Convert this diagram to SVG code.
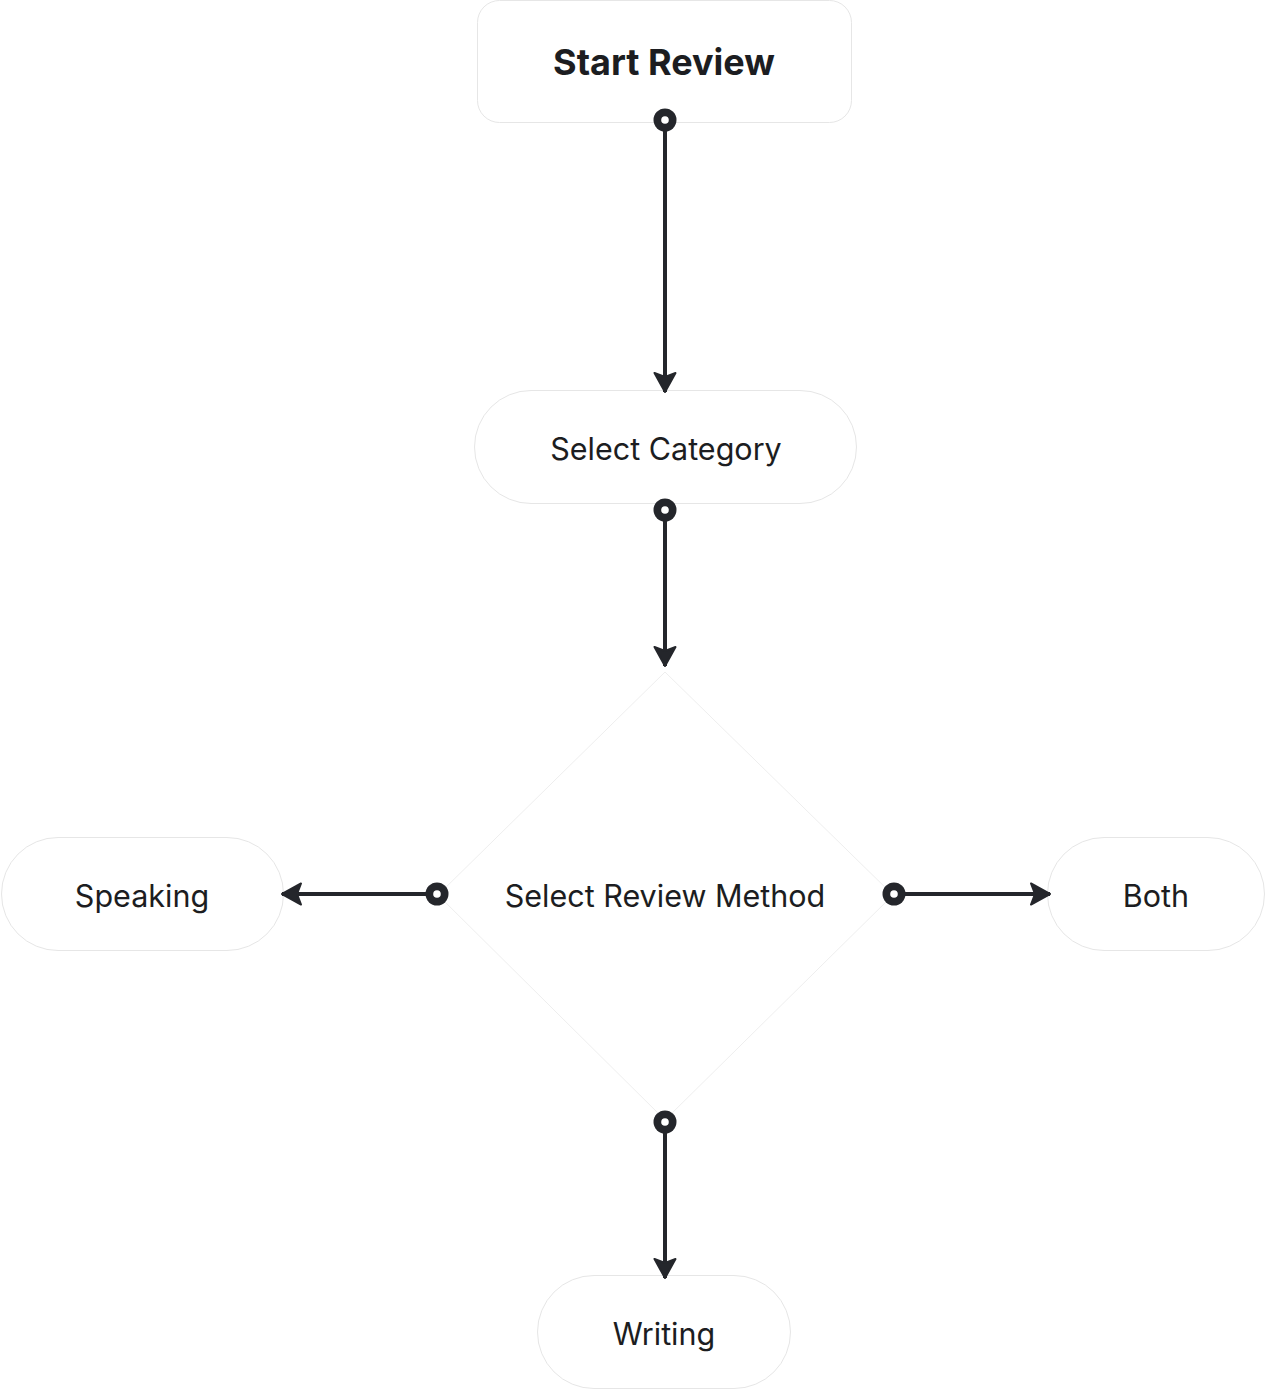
<svg xmlns="http://www.w3.org/2000/svg" width="1266" height="1389" viewBox="0 0 1266 1389">
<style>
.node{fill:#ffffff;stroke:#e6e6e6;stroke-width:1}
.dia{fill:#ffffff;stroke:#eeeeee;stroke-width:1}
.lbl{font-family:Inter,"Liberation Sans",sans-serif;font-size:30.5px;fill:#1c1d21;text-anchor:middle;dominant-baseline:central}
.bold{font-weight:700;font-size:36px}
.edge{fill:none;stroke:#24262b;stroke-width:4;marker-start:url(#dot);marker-end:url(#arrow)}
</style>
<defs>
<marker id="arrow" markerUnits="userSpaceOnUse" viewBox="0 0 26 26" refX="22" refY="13" markerWidth="26" markerHeight="26" orient="auto">
<path d="M3,2.5 L22,13 L3,23.5 L7,13 Z" fill="#24262b" stroke="#24262b" stroke-width="2" stroke-linejoin="round"/>
</marker>
<marker id="dot" markerUnits="userSpaceOnUse" viewBox="0 0 26 26" refX="13" refY="13" markerWidth="26" markerHeight="26" orient="auto">
<circle cx="13" cy="13" r="11.5" fill="#24262b"/>
<circle cx="13" cy="13" r="3.8" fill="#ffffff"/>
</marker>
</defs>
<rect width="1266" height="1389" fill="#ffffff"/>
<g id="n-start">
<rect class="node" x="477.5" y="0.5" width="374" height="122" rx="22"/>
<text class="lbl bold" x="664" y="62">Start Review</text>
</g>
<g id="n-category">
<rect class="node" x="474.5" y="390.5" width="382" height="113" rx="56.5"/>
<text class="lbl" x="666" y="448">Select Category</text>
</g>
<g id="n-method">
<polygon class="dia" points="665,672 893,895 665,1120 438,895"/>
<text class="lbl" x="665" y="895">Select Review Method</text>
</g>
<g id="n-speaking">
<rect class="node" x="1.5" y="837.5" width="282" height="113" rx="56.5"/>
<text class="lbl" x="142" y="895">Speaking</text>
</g>
<g id="n-both">
<rect class="node" x="1047.5" y="837.5" width="217" height="113" rx="56.5"/>
<text class="lbl" x="1156" y="895">Both</text>
</g>
<g id="n-writing">
<rect class="node" x="537.5" y="1275.5" width="253" height="113" rx="56.5"/>
<text class="lbl" x="664" y="1333">Writing</text>
</g>
<g id="connectors">
<path class="edge" d="M665,120 L665,392"/>
<path class="edge" d="M665,510 L665,666"/>
<path class="edge" d="M437,894 L282,894"/>
<path class="edge" d="M894,894 L1050,894"/>
<path class="edge" d="M665,1122 L665,1278"/>
</g>
</svg>
